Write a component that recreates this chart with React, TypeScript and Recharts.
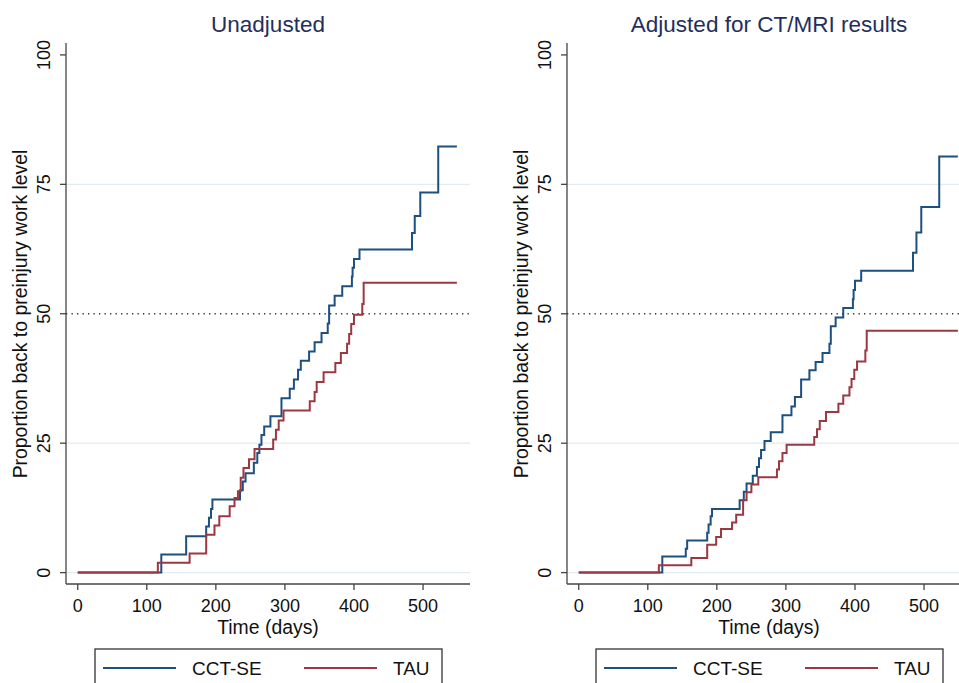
import { LineChart, Line, XAxis, YAxis, ReferenceLine } from 'recharts'

// Unadjusted panel (Kaplan-Meier style cumulative return-to-work, %)
const leftCctDays = [0, 121, 157, 186, 190, 193, 195, 235, 239, 243, 255, 260, 263, 266, 270, 279, 295, 307, 313, 319, 323, 335, 343, 353, 362, 364, 372, 383, 397, 398, 400, 408, 484, 488, 496, 522, 549]
const leftCctVals = [0, 3.5, 7.0, 8.9, 10.6, 12.3, 14.1, 15.9, 17.6, 19.2, 21.2, 23.1, 24.7, 26.6, 28.2, 30.2, 33.7, 35.5, 37.3, 39.2, 40.9, 42.7, 44.5, 46.3, 48.1, 51.6, 53.5, 55.3, 57.2, 58.9, 60.6, 62.4, 65.6, 68.9, 73.4, 82.3, 82.3]
const leftTauDays = [0, 116, 162, 186, 198, 205, 220, 227, 232, 236, 240, 248, 256, 283, 287, 291, 298, 336, 343, 346, 356, 373, 381, 390, 393, 396, 400, 412, 414, 549]
const leftTauVals = [0, 1.9, 3.7, 7.3, 9.1, 10.9, 12.8, 14.4, 15.7, 18.3, 20.2, 21.9, 23.9, 25.7, 27.6, 29.4, 31.3, 33.1, 34.9, 36.8, 38.7, 40.5, 42.4, 44.2, 46.1, 48.0, 49.8, 51.9, 56.0, 56.0]

// Adjusted for CT/MRI results
const rightCctDays = [0, 121, 155, 157, 186, 188, 191, 193, 233, 239, 243, 252, 258, 261, 264, 269, 278, 295, 308, 313, 322, 334, 343, 353, 363, 365, 372, 383, 397, 398, 400, 409, 484, 489, 496, 522, 549]
const rightCctVals = [0, 3.1, 4.6, 6.2, 7.7, 9.3, 10.9, 12.3, 14.0, 15.6, 17.2, 18.7, 20.4, 22.1, 23.7, 25.4, 27.1, 30.4, 32.1, 33.9, 37.3, 39.1, 40.7, 42.4, 44.2, 47.6, 49.3, 51.1, 52.8, 54.6, 56.4, 58.3, 61.8, 65.7, 70.6, 80.4, 80.4]
const rightTauDays = [0, 116, 163, 186, 199, 206, 222, 228, 238, 243, 250, 260, 287, 290, 295, 301, 341, 345, 349, 358, 376, 383, 392, 395, 399, 403, 415, 417, 549]
const rightTauVals = [0, 1.4, 2.8, 5.4, 6.9, 8.4, 9.7, 11.2, 14.0, 15.5, 17.0, 18.4, 19.9, 21.5, 23.1, 24.7, 26.2, 27.7, 29.3, 31.0, 32.6, 34.2, 35.8, 37.4, 39.2, 40.8, 42.9, 46.7, 46.7]

const xTicks = [0, 100, 200, 300, 400, 500]
const yTicks = [0, 25, 50, 75, 100]
const gridLevels = [0, 25, 75]

const BLUE = '#1d4f80'
const RED = '#9c3842'
const AXIS = '#444'
const GRID = '#e2ebf0'
const FONT = '"Liberation Sans", Arial, sans-serif'

const toPoints = (days: number[], vals: number[]) => days.map((day, i) => ({ day, value: vals[i] }))

function YTick(props: any) {
  const { y, payload } = props
  return (
    <text
      x={50}
      y={y}
      transform={`rotate(-90, 50, ${y})`}
      textAnchor="middle"
      fontSize={18}
      fontFamily={FONT}
      fill="#111"
    >
      {payload.value}
    </text>
  )
}

interface PanelProps {
  title: string
  left: number
  cctDays: number[]
  cctVals: number[]
  tauDays: number[]
  tauVals: number[]
}

function Panel({ title, left, cctDays, cctVals, tauDays, tauVals }: PanelProps) {
  const cct = toPoints(cctDays, cctVals)
  const tau = toPoints(tauDays, tauVals)

  return (
    <div style={{ position: 'absolute', left, top: 0, width: 480, height: 683 }}>
      <LineChart width={480} height={683} margin={{ top: 43, right: 10, bottom: 0, left: 0 }}>
        <XAxis
          dataKey="day"
          type="number"
          domain={[-17, 568]}
          ticks={xTicks}
          allowDataOverflow
          height={99}
          tickSize={6}
          tickMargin={9}
          axisLine={{ stroke: AXIS, strokeWidth: 1.3 }}
          tickLine={{ stroke: AXIS, strokeWidth: 1.3 }}
          tick={{ fontSize: 18, fontFamily: FONT, fill: '#111' }}
        />
        <YAxis
          type="number"
          domain={[-2.2, 102.3]}
          ticks={yTicks}
          allowDataOverflow
          width={66}
          tickSize={6}
          axisLine={{ stroke: AXIS, strokeWidth: 1.3 }}
          tickLine={{ stroke: AXIS, strokeWidth: 1.3 }}
          tick={<YTick />}
        />
        {gridLevels.map((g) => (
          <ReferenceLine key={g} y={g} stroke={GRID} strokeWidth={1.2} />
        ))}
        <ReferenceLine y={50} stroke="#333" strokeWidth={1.3} strokeDasharray="1.3 4.2" />
        <Line
          data={cct}
          dataKey="value"
          type="stepAfter"
          stroke={BLUE}
          strokeWidth={2}
          dot={false}
          activeDot={false}
          isAnimationActive={false}
        />
        <Line
          data={tau}
          dataKey="value"
          type="stepAfter"
          stroke={RED}
          strokeWidth={2}
          dot={false}
          activeDot={false}
          isAnimationActive={false}
        />
      </LineChart>

      <svg
        width={480}
        height={683}
        style={{ position: 'absolute', left: 0, top: 0, pointerEvents: 'none' }}
        fontFamily={FONT}
      >
        <text x={268} y={32} textAnchor="middle" fontSize={22.5} fill="#1f2f5e">
          {title}
        </text>
        <text
          x={27}
          y={314}
          transform="rotate(-90, 27, 314)"
          textAnchor="middle"
          fontSize={19.4}
          fill="#111"
        >
          Proportion back to preinjury work level
        </text>
        <text x={268} y={634} textAnchor="middle" fontSize={19.4} fill="#111">
          Time (days)
        </text>

        <rect x={95} y={649} width={347} height={60} fill="none" stroke="#333" strokeWidth={1.3} />
        <line x1={103} y1={668} x2={176} y2={668} stroke={BLUE} strokeWidth={2} />
        <text x={192} y={675} fontSize={19} fill="#111">CCT-SE</text>
        <line x1={304} y1={668} x2={377} y2={668} stroke={RED} strokeWidth={2} />
        <text x={393} y={675} fontSize={19} fill="#111">TAU</text>
      </svg>
    </div>
  )
}

export default function App() {
  return (
    <div
      style={{
        position: 'absolute',
        left: 0,
        top: 0,
        width: 959,
        height: 683,
        overflow: 'hidden',
        background: '#fff',
      }}
    >
      <Panel
        title="Unadjusted"
        left={0}
        cctDays={leftCctDays}
        cctVals={leftCctVals}
        tauDays={leftTauDays}
        tauVals={leftTauVals}
      />
      <Panel
        title="Adjusted for CT/MRI results"
        left={501}
        cctDays={rightCctDays}
        cctVals={rightCctVals}
        tauDays={rightTauDays}
        tauVals={rightTauVals}
      />
    </div>
  )
}
